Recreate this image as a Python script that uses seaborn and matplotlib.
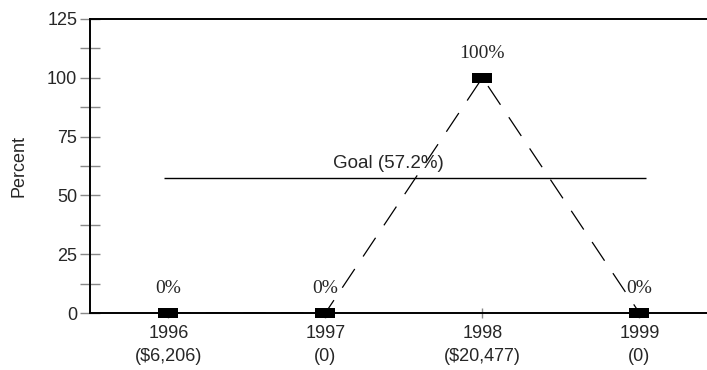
import matplotlib
matplotlib.use("Agg")
import matplotlib.pyplot as plt
import seaborn as sns
import pandas as pd
import numpy as np

# data
years = ["1996", "1997", "1998", "1999"]
amounts = ["($6,206)", "(0)", "($20,477)", "(0)"]
percent = [0, 0, 100, 0]
goal = 57.2

df = pd.DataFrame({"pos": range(len(years)), "percent": percent})

sns.set_style("white")
plt.rcParams["font.family"] = ["Liberation Sans", "DejaVu Sans"]

fig = plt.figure(figsize=(7.07, 3.70), dpi=100)
ax = fig.add_axes([0.127, 0.154, 0.873, 0.795])

# dashed connecting line
sns.lineplot(data=df, x="pos", y="percent", ax=ax, color="black", lw=0.9,
             linestyle=(0, (18, 12)), zorder=3)

# rectangle markers
rect = [(-1.0, -0.5), (1.0, -0.5), (1.0, 0.5), (-1.0, 0.5), (-1.0, -0.5)]
sns.scatterplot(data=df, x="pos", y="percent", ax=ax, marker=rect, s=200,
                color="black", edgecolor="black", linewidth=0, zorder=5,
                clip_on=False, legend=False)

# value labels
for x, v in zip(df["pos"], df["percent"]):
    ax.text(x, v + 8.5, f"{v}%", ha="center", va="baseline", fontsize=14,
            family=["Liberation Serif", "DejaVu Serif"])

# goal line
ax.hlines(goal, -0.03, 3.04, color="black", lw=1, zorder=2)
ax.text(1.4, goal + 4.5, f"Goal ({goal}%)", ha="center", va="baseline",
        fontsize=13.5, zorder=4)

ax.set_xlim(-0.5, 3.43)
ax.set_ylim(0, 125)
ax.set_yticks([0, 25, 50, 75, 100, 125])
ax.set_yticks(np.arange(12.5, 125, 25), minor=True)
ax.set_xticks(df["pos"])
ax.set_xticklabels([f"{y}\n{a}" for y, a in zip(years, amounts)],
                   fontsize=13, linespacing=1.5)
ax.tick_params(axis="y", which="both", direction="inout", length=14,
               width=1, color="#888888", labelsize=13, pad=2, left=True)
ax.tick_params(axis="x", direction="inout", length=7, width=1,
               color="#888888", pad=5, bottom=True)
ax.set_ylabel("Percent", fontsize=13, labelpad=14)
ax.set_xlabel("")

for s in ["left", "bottom", "top"]:
    ax.spines[s].set_visible(True)
    ax.spines[s].set_color("black")
    ax.spines[s].set_linewidth(1.4)
ax.spines["right"].set_visible(False)

fig.savefig("out.png", dpi=100)
